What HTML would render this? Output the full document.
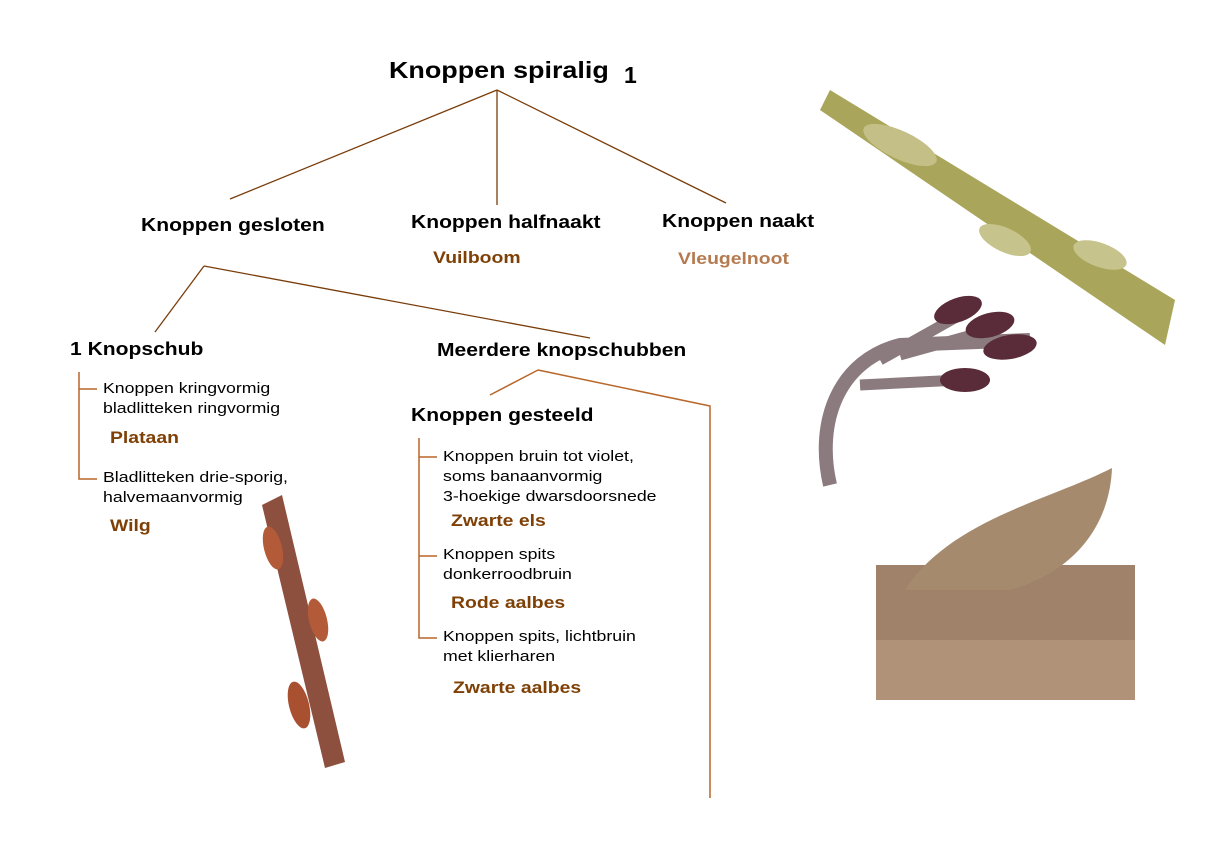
<!DOCTYPE html>
<html><head><meta charset="utf-8"><style>
body{margin:0;width:1220px;height:845px;background:#fff;position:relative;overflow:hidden;font-family:"Liberation Sans",Arial,sans-serif}
.t{position:absolute;white-space:nowrap;color:#000;transform-origin:0 0}
.b{font-weight:bold}
.h{font-size:18px;font-weight:bold;transform:scaleX(1.17)}
.s{font-size:15px;line-height:20px;transform:scaleX(1.18)}
.n{font-size:17px;font-weight:bold;color:#7f4006;transform:scaleX(1.14)}
</style></head><body>
<svg width="1220" height="845" style="position:absolute;left:0;top:0">
<g stroke="#7a3d0a" stroke-width="1.3" fill="none">
<line x1="497" y1="90" x2="230" y2="199"/>
<line x1="497" y1="90" x2="497" y2="205"/>
<line x1="497" y1="90" x2="726" y2="203"/>
<line x1="204" y1="266" x2="155" y2="332"/>
<line x1="204" y1="266" x2="590" y2="338"/>
</g>
<g stroke="#b8672a" stroke-width="1.5" fill="none">
<polyline points="79,372 79,479 97,479"/><line x1="79" y1="389" x2="97" y2="389"/>
<line x1="490" y1="395" x2="538" y2="370"/>
<polyline points="538,370 710,406 710,798"/>
<polyline points="419,438 419,638 437,638"/>
<line x1="419" y1="457" x2="437" y2="457"/>
<line x1="419" y1="556" x2="437" y2="556"/>
</g>
<polygon points="820,110 830,90 1175,300 1165,345" fill="#a9a55a"/>
<ellipse cx="900" cy="145" rx="40" ry="14" fill="#c3bf86" transform="rotate(25 900 145)"/>
<ellipse cx="1005" cy="240" rx="28" ry="12" fill="#c7c38c" transform="rotate(25 1005 240)"/>
<ellipse cx="1100" cy="255" rx="28" ry="12" fill="#c7c38c" transform="rotate(20 1100 255)"/>
<path d="M830 485 C815 420 840 360 900 345 L1030 340" stroke="#8b7b7e" stroke-width="14" fill="none"/>
<path d="M880 360 L960 315 M900 355 L990 330 M860 385 L960 380" stroke="#8b7b7e" stroke-width="11" fill="none"/>
<ellipse cx="958" cy="310" rx="25" ry="12" fill="#5a2b38" transform="rotate(-20 958 310)"/>
<ellipse cx="990" cy="325" rx="25" ry="12" fill="#5a2b38" transform="rotate(-15 990 325)"/>
<ellipse cx="1010" cy="347" rx="27" ry="12" fill="#5a2b38" transform="rotate(-10 1010 347)"/>
<ellipse cx="965" cy="380" rx="25" ry="12" fill="#5a2b38"/>
<rect x="876" y="565" width="259" height="135" fill="#a0826a"/>
<path d="M905 590 C950 520 1050 500 1112 468 C1110 520 1080 570 1010 590 Z" fill="#a58a6e"/>
<rect x="876" y="640" width="259" height="60" fill="#b09278"/>
<polygon points="262,505 282,495 345,762 325,768" fill="#8d4f3e"/>
<ellipse cx="273" cy="548" rx="9" ry="22" fill="#b35a38" transform="rotate(-14 273 548)"/>
<ellipse cx="318" cy="620" rx="9" ry="22" fill="#b35a38" transform="rotate(-14 318 620)"/>
<ellipse cx="299" cy="705" rx="10" ry="24" fill="#a85030" transform="rotate(-14 299 705)"/>
</svg>
<div class="t b" style="left:389px;top:57px;font-size:23px;transform:scaleX(1.17)">Knoppen spiralig</div>
<div class="t b" style="left:624px;top:62px;font-size:23px">1</div>
<div class="t h" style="left:141px;top:215px">Knoppen gesloten</div>
<div class="t h" style="left:411px;top:212px">Knoppen halfnaakt</div>
<div class="t h" style="left:662px;top:211px">Knoppen naakt</div>
<div class="t n" style="left:433px;top:248px">Vuilboom</div>
<div class="t n" style="left:678px;top:249px;color:#b57a4f">Vleugelnoot</div>
<div class="t h" style="left:70px;top:339px">1 Knopschub</div>
<div class="t h" style="left:437px;top:340px">Meerdere knopschubben</div>
<div class="t s" style="left:103px;top:379px">Knoppen kringvormig<br>bladlitteken ringvormig</div>
<div class="t n" style="left:110px;top:428px">Plataan</div>
<div class="t s" style="left:103px;top:468px">Bladlitteken drie-sporig,<br>halvemaanvormig</div>
<div class="t n" style="left:110px;top:516px">Wilg</div>
<div class="t h" style="left:411px;top:405px">Knoppen gesteeld</div>
<div class="t s" style="left:443px;top:447px">Knoppen bruin tot violet,<br>soms banaanvormig<br>3-hoekige dwarsdoorsnede</div>
<div class="t n" style="left:451px;top:511px">Zwarte els</div>
<div class="t s" style="left:443px;top:545px">Knoppen spits<br>donkerroodbruin</div>
<div class="t n" style="left:451px;top:593px">Rode aalbes</div>
<div class="t s" style="left:443px;top:627px">Knoppen spits, lichtbruin<br>met klierharen</div>
<div class="t n" style="left:453px;top:678px">Zwarte aalbes</div>
</body></html>
